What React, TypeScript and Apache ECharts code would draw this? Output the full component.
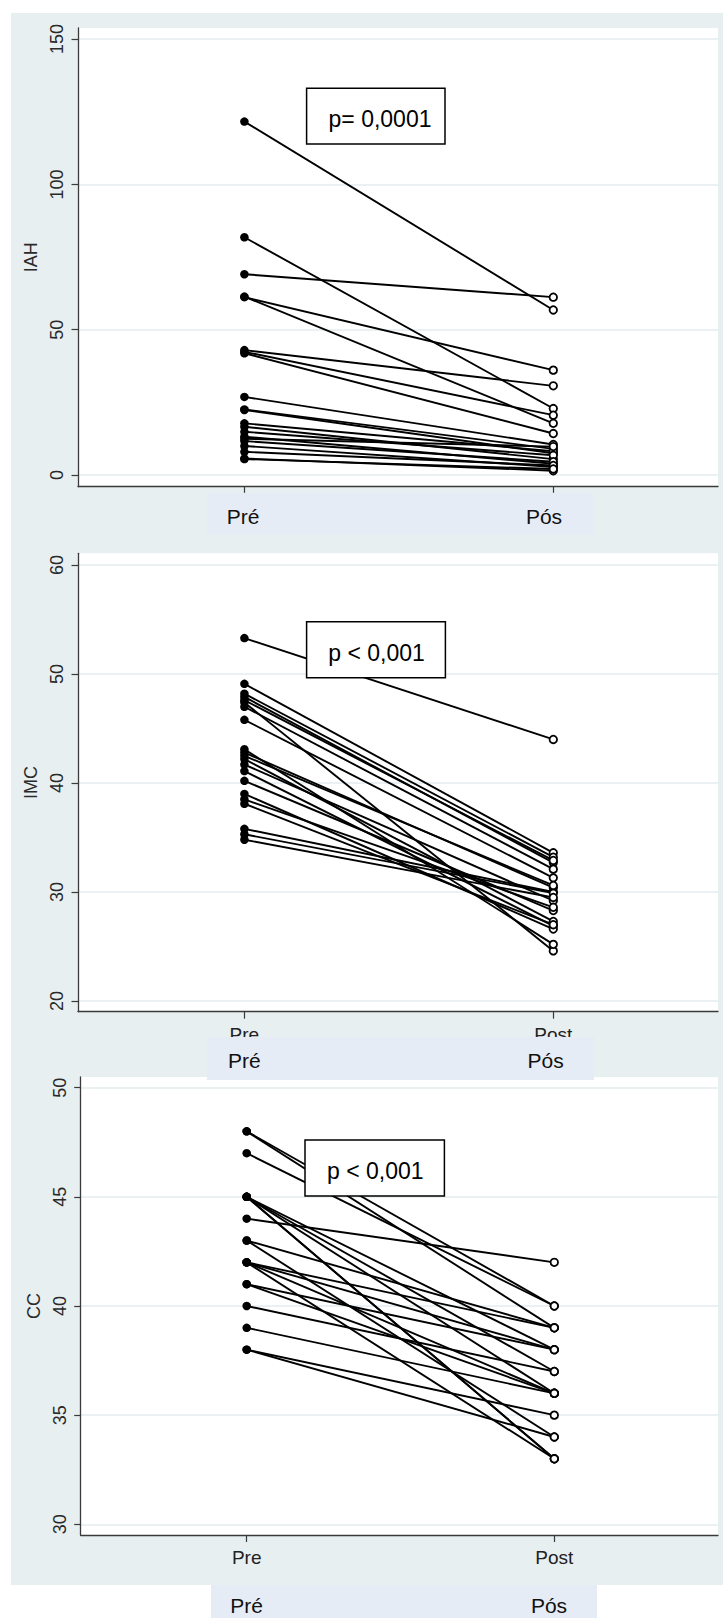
import React, { useEffect, useRef } from "react";
import * as echarts from "echarts";

// ---- data ----
const prePostTicks = ["Pre", "Post"];
const overlayLabels = ["Pré", "Pós"];

const iahTicks = [0, 50, 100, 150];
const iahPre = [121.6, 81.8, 69.1, 61.2, 61.4, 43.0, 42.4, 41.9, 26.9, 22.6, 22.4, 17.8, 16.6, 14.9, 13.2, 11.7, 10.0, 8.0, 5.7, 5.5, 12.5];
const iahPost = [56.8, 22.9, 61.2, 36.1, 17.8, 30.7, 20.6, 14.3, 10.5, 9.0, 7.5, 8.2, 5.5, 6.8, 3.9, 4.6, 2.8, 3.3, 1.5, 2.1, 9.8];

const imcTicks = [20, 30, 40, 50, 60];
const imcPre = [53.3, 49.1, 48.2, 47.9, 47.4, 47.0, 45.8, 43.1, 42.8, 42.2, 41.7, 41.1, 40.2, 39.0, 38.5, 38.1, 35.8, 35.3, 34.8, 47.6, 42.5];
const imcPost = [44.0, 33.6, 33.2, 32.7, 24.6, 32.1, 31.3, 25.2, 30.4, 27.3, 29.2, 26.9, 28.3, 26.6, 28.6, 27.0, 30.0, 29.9, 29.5, 32.9, 30.6];

const ccTicks = [30, 35, 40, 45, 50];
const ccPre = [48, 48, 47, 45, 45, 45, 45, 45, 44, 43, 43, 42, 42, 42, 42, 41, 41, 40, 39, 38, 38];
const ccPost = [40, 39, 40, 33, 33, 36, 38, 37, 42, 39, 34, 39, 36, 38, 33, 38, 36, 37, 36, 35, 34];

const pLabels = ["p= 0,0001", "p < 0,001", "p < 0,001"];
const yNames = ["IAH", "IMC", "CC"];

const FONT = "'Liberation Sans', Arial, sans-serif";
const BG = "#e8eff1";
const PATCH = "#e6ecf6";
const AXIS = "#3a3a3a";

// ---- layout ----
const panels = [
  { left: 78, top: 28, right: 718, bottom: 486.7, yMin: -4.0, yMax: 153.8, preX: 244.4, postX: 553.3, showX: false,
    bg: [11, 13, 723, 553], patch: [207, 492.7, 593, 535], labelY: 516, preLabX: 243, postLabX: 544,
    box: [306.6, 88.3, 445, 144], textX: 380, textY: 119 },
  { left: 78, top: 553.3, right: 718, bottom: 1011.7, yMin: 19.02, yMax: 61.08, preX: 244.4, postX: 553.3, showX: true,
    bg: [11, 553, 723, 1060], patch: [207, 1037, 594, 1080], labelY: 1060, preLabX: 244.3, postLabX: 545.6,
    box: [306.6, 621.7, 445.4, 677.7], textX: 376.5, textY: 653 },
  { left: 80.7, top: 1077, right: 718, bottom: 1535, yMin: 29.51, yMax: 50.49, preX: 246.7, postX: 554.3, showX: true,
    bg: [11, 1060, 723, 1585], patch: [211, 1585, 597, 1618], labelY: 1605, preLabX: 246.7, postLabX: 549,
    box: [305, 1140, 444.4, 1196], textX: 375.3, textY: 1170.5 },
];

const panelData = [
  { pre: iahPre, post: iahPost, ticks: iahTicks },
  { pre: imcPre, post: imcPost, ticks: imcTicks },
  { pre: ccPre, post: ccPost, ticks: ccTicks },
];

function buildOption() {
  const grid: any[] = [];
  const xAxis: any[] = [];
  const yAxis: any[] = [];
  const series: any[] = [];
  const graphic: any[] = [];

  panels.forEach((p, i) => {
    const d = panelData[i];
    const ppu = p.postX - p.preX;
    const xMin = -(p.preX - p.left) / ppu;
    const xMax = 1 + (p.right - p.postX) / ppu;
    grid.push({
      left: p.left, top: p.top, width: p.right - p.left, height: p.bottom - p.top,
      containLabel: false, outerBoundsMode: "none", show: false,
    });
    xAxis.push({
      type: "value", gridIndex: i, min: xMin, max: xMax,
      axisLine: { show: true, onZero: false, lineStyle: { color: AXIS, width: 1.3 } },
      axisTick: { show: true, customValues: [0, 1], length: 7, lineStyle: { color: AXIS, width: 1.2 } },
      axisLabel: {
        show: p.showX, customValues: [0, 1], margin: 13, fontSize: 19, color: "#222", fontFamily: FONT,
        formatter: (v: number) => prePostTicks[Math.round(v)] ?? "",
      },
      splitLine: { show: false },
    });
    yAxis.push({
      type: "value", gridIndex: i, min: p.yMin, max: p.yMax,
      axisLine: { show: true, onZero: false, lineStyle: { color: AXIS, width: 1.3 } },
      axisTick: { show: true, customValues: d.ticks, length: 6.5, lineStyle: { color: AXIS, width: 1.2 } },
      axisLabel: { customValues: d.ticks, rotate: 90, margin: 12, fontSize: 18, color: "#2a2a2a", fontFamily: FONT },
      splitLine: { show: true, lineStyle: { color: "#e4ecee", width: 1.5 } },
      name: yNames[i], nameLocation: "middle", nameGap: 29,
      nameTextStyle: { fontSize: 18, color: "#2a2a2a", fontFamily: FONT },
    });
    d.pre.forEach((v, k) => {
      series.push({
        type: "line", xAxisIndex: i, yAxisIndex: i, clip: false, silent: true, z: 3,
        showSymbol: true, showAllSymbol: true,
        lineStyle: { color: "#000", width: 1.9 },
        data: [
          { value: [0, v], symbol: "circle", symbolSize: 8.5, itemStyle: { color: "#000", borderColor: "#000", borderWidth: 0 } },
          { value: [1, d.post[k]], symbol: "circle", symbolSize: 7.5, itemStyle: { color: "#fff", borderColor: "#000", borderWidth: 1.8 } },
        ],
      });
    });

    // backgrounds
    graphic.push({ type: "rect", z: -20, silent: true,
      shape: { x: p.bg[0], y: p.bg[1], width: p.bg[2] - p.bg[0], height: p.bg[3] - p.bg[1] },
      style: { fill: BG } });
    graphic.push({ type: "rect", z: -10, silent: true,
      shape: { x: p.left, y: p.top, width: p.right - p.left, height: p.bottom - p.top },
      style: { fill: "#ffffff" } });
    // overlay label patch
    graphic.push({ type: "rect", z: 50, silent: true,
      shape: { x: p.patch[0], y: p.patch[1], width: p.patch[2] - p.patch[0], height: p.patch[3] - p.patch[1] },
      style: { fill: PATCH } });
    graphic.push({ type: "text", z: 51, silent: true, x: p.preLabX, y: p.labelY,
      style: { text: overlayLabels[0], fill: "#111", fontSize: 21, fontFamily: FONT, align: "center", verticalAlign: "middle" } });
    graphic.push({ type: "text", z: 51, silent: true, x: p.postLabX, y: p.labelY,
      style: { text: overlayLabels[1], fill: "#111", fontSize: 21, fontFamily: FONT, align: "center", verticalAlign: "middle" } });
    // p-value box
    graphic.push({ type: "rect", z: 50, silent: true,
      shape: { x: p.box[0], y: p.box[1], width: p.box[2] - p.box[0], height: p.box[3] - p.box[1] },
      style: { fill: "#fff", stroke: "#000", lineWidth: 1.5 } });
    graphic.push({ type: "text", z: 51, silent: true, x: p.textX, y: p.textY,
      style: { text: pLabels[i], fill: "#000", fontSize: 23, fontFamily: FONT, align: "center", verticalAlign: "middle" } });
  });

  return { animation: false, backgroundColor: "#ffffff", grid, xAxis, yAxis, series, graphic };
}

export default function App() {
  const ref = useRef<HTMLDivElement>(null);
  useEffect(() => {
    document.body.style.margin = "0";
    if (!ref.current) return;
    const chart = echarts.init(ref.current, undefined, { renderer: "svg" });
    chart.setOption(buildOption() as any);
    return () => chart.dispose();
  }, []);
  return <div ref={ref} style={{ width: 723, height: 1618 }} />;
}
